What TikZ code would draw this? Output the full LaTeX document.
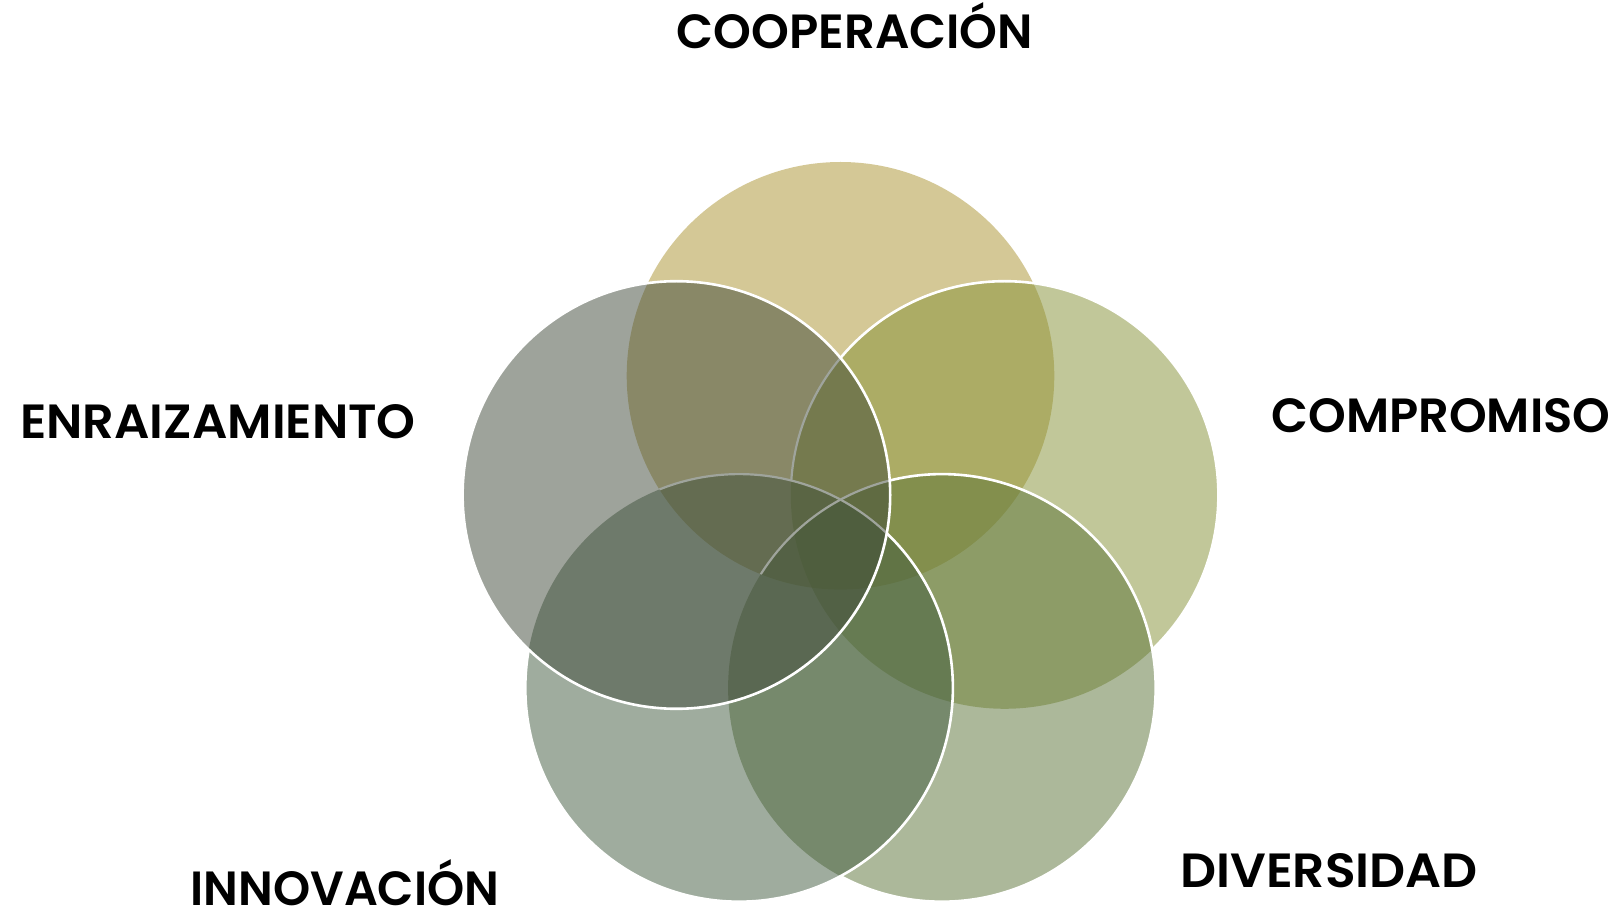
\documentclass[tikz,border=0pt]{standalone}
\usepackage{fontspec}
\setmainfont{Poppins SemiBold}
\definecolor{cT}{HTML}{AB932F}
\definecolor{cR}{HTML}{859135}
\definecolor{cL}{HTML}{3F4939}
\definecolor{cBL}{HTML}{415B3F}
\definecolor{cBR}{HTML}{5B7337}
\definecolor{tintL}{HTML}{9FA49C}
\begin{document}
\begin{tikzpicture}[x=0.5pt,y=-0.5pt,
  disc/.style={fill=#1, fill opacity=0.5, draw=none},
  rim/.style={draw=white, line width=1.3pt},
  faint/.style={draw=tintL, line width=1.1pt},
  word/.style={font=\fontsize{24}{28}\selectfont, text=black, anchor=base, inner sep=0pt, text depth=0pt},
  pT/.style={insert path={(840.5,375.8) circle[radius=213.8]}},
  pL/.style={insert path={(676.4,495.0) circle[radius=213.8]}},
  pR/.style={insert path={(1004.6,495.0) circle[radius=213.8]}},
  pBL/.style={insert path={(739.1,687.9) circle[radius=213.8]}},
  pBR/.style={insert path={(941.9,687.9) circle[radius=213.8]}},
  oL/.style={insert path={(-20,-20) -- (1640,-20) -- (1640,940) -- (-20,940) -- cycle (890.2,495.0) arc[start angle=0,end angle=-360,radius=213.8] -- cycle}},
  oBL/.style={insert path={(-20,-20) -- (1640,-20) -- (1640,940) -- (-20,940) -- cycle (952.9,687.9) arc[start angle=0,end angle=-360,radius=213.8] -- cycle}},
  oBR/.style={insert path={(-20,-20) -- (1640,-20) -- (1640,940) -- (-20,940) -- cycle (1155.7,687.9) arc[start angle=0,end angle=-360,radius=213.8] -- cycle}}
]
\fill[white] (0,0) rectangle (1619,914);
\useasboundingbox (0,0) rectangle (1619,914);
% discs
\path[disc=cT,pT];
\path[disc=cR,pR];
\path[disc=cBR,pBR];
\path[disc=cBL,pBL];
\path[disc=cL,pL];
% outlines
\begin{scope}\clip[oL];\clip[oBR];\draw[rim,pR];\end{scope}
\begin{scope}\clip[pL];\clip[pT];\clip[oBL];\draw[faint,pR];\end{scope}
\begin{scope}\clip[oL];\clip[oBL];\draw[rim,pBR];\end{scope}
\begin{scope}\clip[pL];\clip[pT];\draw[faint,pBR];\end{scope}
\begin{scope}\clip[oL];\draw[rim,pBL];\end{scope}
\begin{scope}\clip[pL];\clip[pT];\draw[faint,pBL];\end{scope}
\draw[rim,pL];
% labels
\node[word] (coop) at (855,49) {\scalebox{1.003}[1]{COOPERACIÓN}};
\node[word] (enr) at (218,439) {\scalebox{1.03}[1]{ENRAIZAMIENTO}};
\node[word] (comp) at (1441,433) {\scalebox{1.0}[1]{COMPROMISO}};
\node[word] (innov) at (345,905) {\scalebox{0.986}[1]{INNOVACIÓN}};
\node[word] (div) at (1329,887) {\scalebox{1.048}[1]{DIVERSIDAD}};
\end{tikzpicture}
\end{document}
